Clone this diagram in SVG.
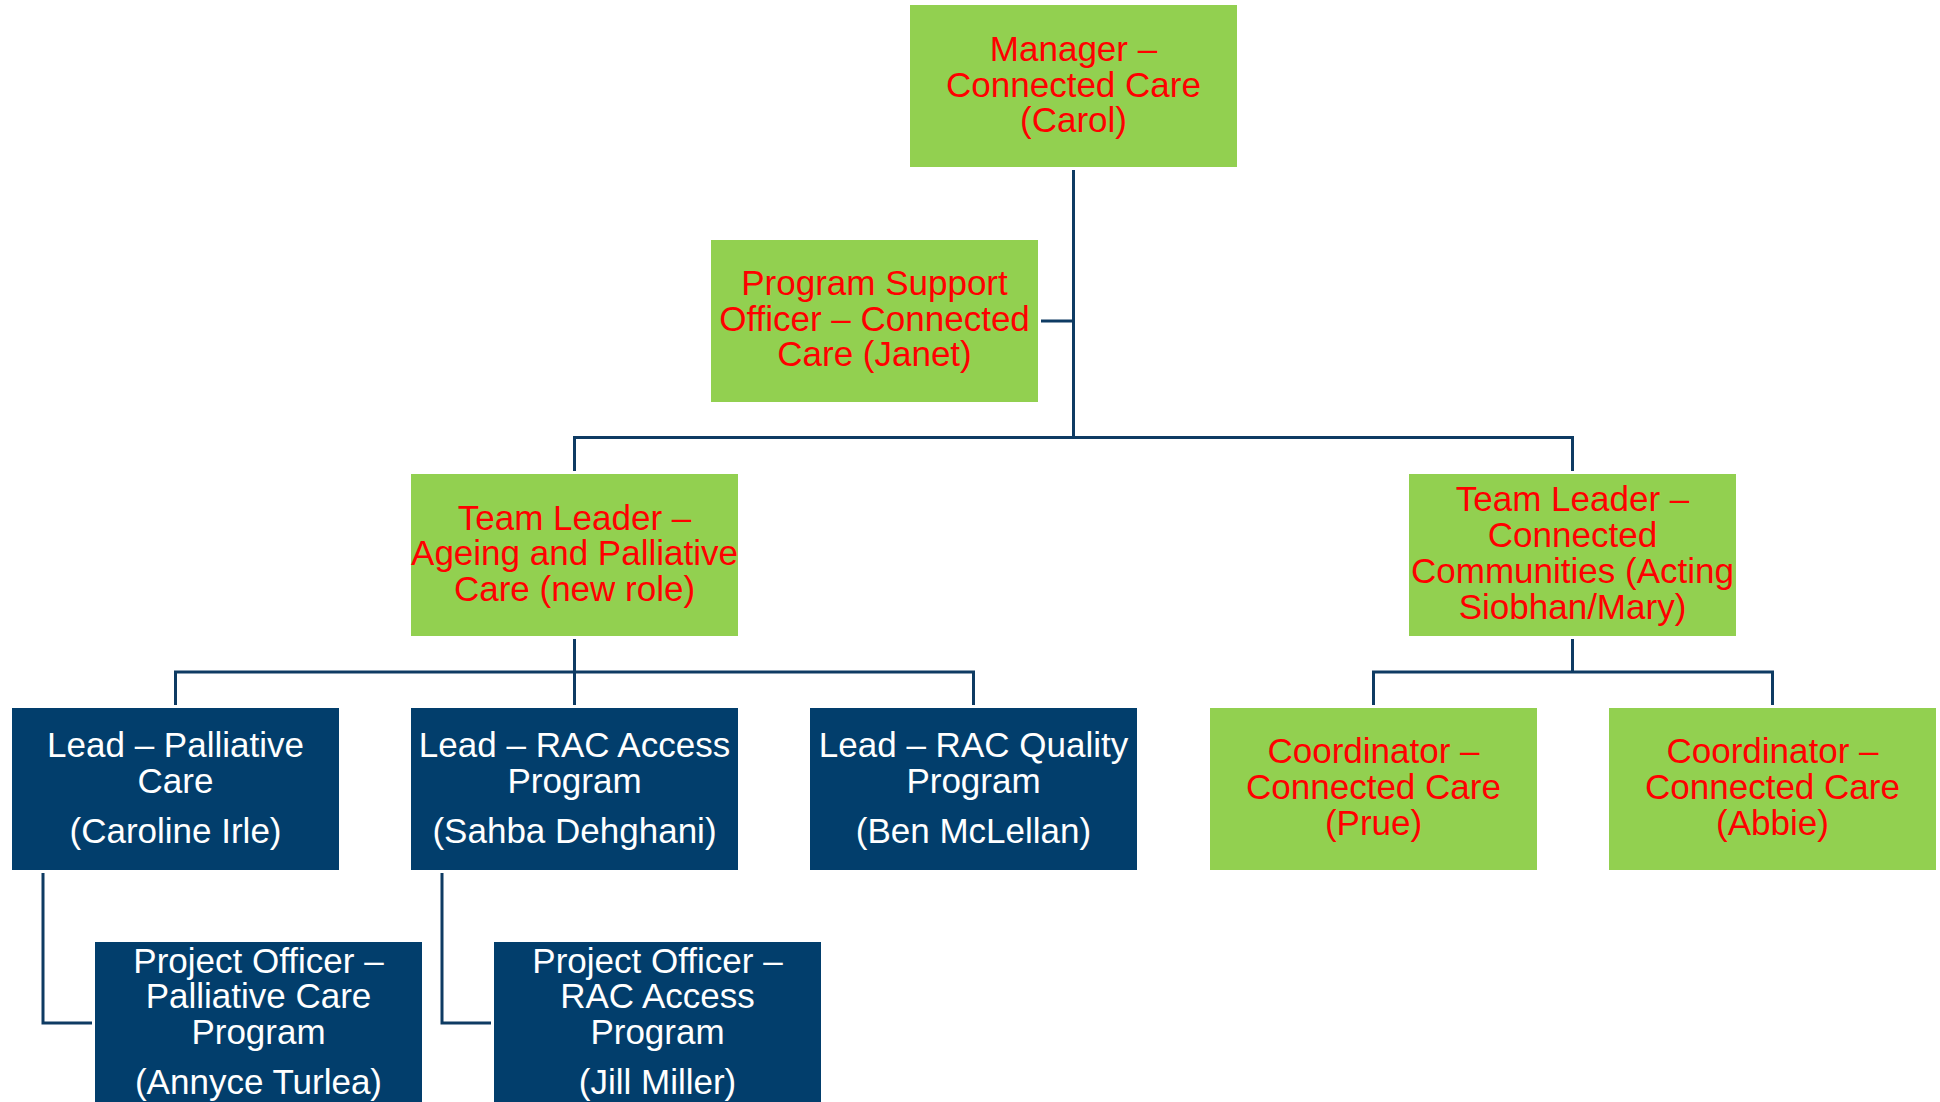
<svg xmlns="http://www.w3.org/2000/svg" width="1940" height="1102" viewBox="0 0 1940 1102">
<style>
.g{fill:#92D050}
.b{fill:#023E6C}
.tr{font-family:"Liberation Sans",Arial,sans-serif;font-size:35px;fill:#FF0000;text-anchor:middle}
.tw{font-family:"Liberation Sans",Arial,sans-serif;font-size:35px;fill:#FFFFFF;text-anchor:middle}
.c{fill:none;stroke:#0E3B63;stroke-width:3}
</style>
<rect width="1940" height="1102" fill="#FFFFFF"/>
<g id="connectors">
<path class="c" d="M1073.5,170 V438"/>
<path class="c" d="M1041,321 H1073.5"/>
<path class="c" d="M574.5,471 V437.5 H1572.5 V471"/>
<path class="c" d="M574.5,639 V705"/>
<path class="c" d="M175.5,705 V672 H973.5 V705"/>
<path class="c" d="M1572.5,639 V672"/>
<path class="c" d="M1373.5,705 V672 H1772.5 V705"/>
<path class="c" d="M43,873 V1023 H92"/>
<path class="c" d="M442,873 V1023 H491"/>
</g>
<g id="manager">
<rect class="g" x="910" y="5" width="327" height="162"/>
<text class="tr" x="1073.5" y="61">Manager –</text>
<text class="tr" x="1073.5" y="96.5">Connected Care</text>
<text class="tr" x="1073.5" y="132">(Carol)</text>
</g>
<g id="program-support">
<rect class="g" x="711" y="240" width="327" height="162"/>
<text class="tr" x="874.5" y="295">Program Support</text>
<text class="tr" x="874.5" y="330.5">Officer – Connected</text>
<text class="tr" x="874.5" y="366">Care (Janet)</text>
</g>
<g id="tl-ageing">
<rect class="g" x="411" y="474" width="327" height="162"/>
<text class="tr" x="574.5" y="529.5">Team Leader –</text>
<text class="tr" x="574.5" y="565">Ageing and Palliative</text>
<text class="tr" x="574.5" y="600.5">Care (new role)</text>
</g>
<g id="tl-communities">
<rect class="g" x="1409" y="474" width="327" height="162"/>
<text class="tr" x="1572.5" y="511">Team Leader –</text>
<text class="tr" x="1572.5" y="547">Connected</text>
<text class="tr" x="1572.5" y="583">Communities (Acting</text>
<text class="tr" x="1572.5" y="619">Siobhan/Mary)</text>
</g>
<g id="lead-palliative">
<rect class="b" x="12" y="708" width="327" height="162"/>
<text class="tw" x="175.5" y="756.5">Lead – Palliative</text>
<text class="tw" x="175.5" y="792.5">Care</text>
<text class="tw" x="175.5" y="843">(Caroline Irle)</text>
</g>
<g id="lead-rac-access">
<rect class="b" x="411" y="708" width="327" height="162"/>
<text class="tw" x="574.5" y="756.5">Lead – RAC Access</text>
<text class="tw" x="574.5" y="792.5">Program</text>
<text class="tw" x="574.5" y="843">(Sahba Dehghani)</text>
</g>
<g id="lead-rac-quality">
<rect class="b" x="810" y="708" width="327" height="162"/>
<text class="tw" x="973.5" y="756.5">Lead – RAC Quality</text>
<text class="tw" x="973.5" y="792.5">Program</text>
<text class="tw" x="973.5" y="843">(Ben McLellan)</text>
</g>
<g id="coord-prue">
<rect class="g" x="1210" y="708" width="327" height="162"/>
<text class="tr" x="1373.5" y="763">Coordinator –</text>
<text class="tr" x="1373.5" y="799">Connected Care</text>
<text class="tr" x="1373.5" y="835">(Prue)</text>
</g>
<g id="coord-abbie">
<rect class="g" x="1609" y="708" width="327" height="162"/>
<text class="tr" x="1772.5" y="763">Coordinator –</text>
<text class="tr" x="1772.5" y="799">Connected Care</text>
<text class="tr" x="1772.5" y="835">(Abbie)</text>
</g>
<g id="po-palliative">
<rect class="b" x="95" y="942" width="327" height="165"/>
<text class="tw" x="258.5" y="972.5">Project Officer –</text>
<text class="tw" x="258.5" y="1008">Palliative Care</text>
<text class="tw" x="258.5" y="1044">Program</text>
<text class="tw" x="258.5" y="1094">(Annyce Turlea)</text>
</g>
<g id="po-rac-access">
<rect class="b" x="494" y="942" width="327" height="165"/>
<text class="tw" x="657.5" y="972.5">Project Officer –</text>
<text class="tw" x="657.5" y="1008">RAC Access</text>
<text class="tw" x="657.5" y="1044">Program</text>
<text class="tw" x="657.5" y="1094">(Jill Miller)</text>
</g>
</svg>
